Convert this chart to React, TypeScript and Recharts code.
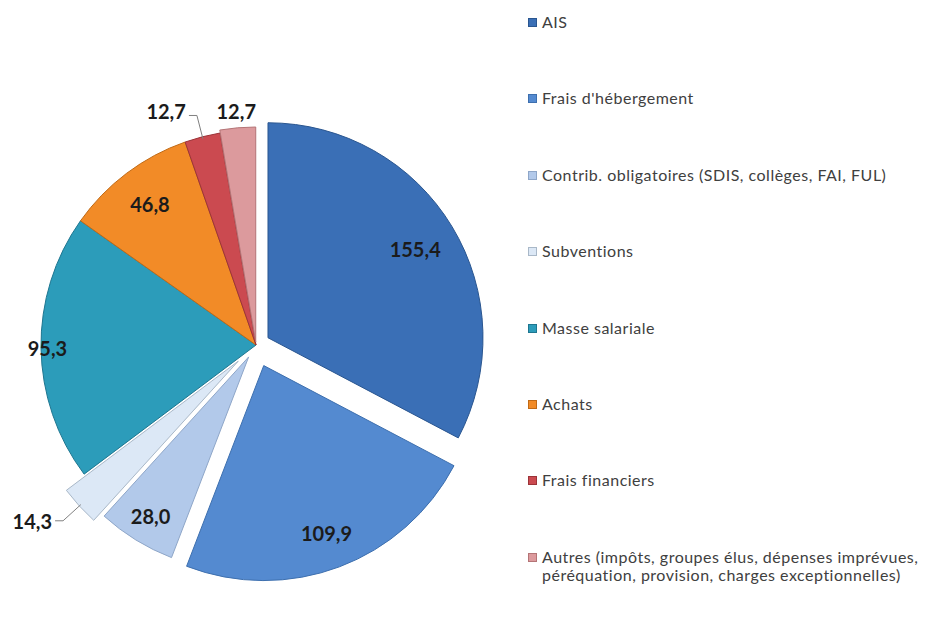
import { PieChart, Pie, Cell, Legend } from "recharts";

const categories = [
  "AIS",
  "Frais d'hébergement",
  "Contrib. obligatoires (SDIS, collèges, FAI, FUL)",
  "Subventions",
  "Masse salariale",
  "Achats",
  "Frais financiers",
  "Autres (impôts, groupes élus, dépenses imprévues,|péréquation, provision, charges exceptionnelles)",
];
const values = [155.4, 109.9, 28.0, 14.3, 95.3, 46.8, 12.7, 12.7];

const colors = ["#3a6fb6", "#548ad0", "#b2c9ea", "#dce8f6", "#2c9cba", "#f28b27", "#cb4a50", "#dc9a9d"];
const edges = ["#2a5690", "#3d6fae", "#8ea6c8", "#a9b8c8", "#1e7690", "#c06a16", "#9c3338", "#b47476"];
const explode = [14, 22, 14, 24, 0, 0, 0, 3];
const labelRadius = [0.8, 0.83, 0.87, 1, 0.97, 0.82, 1, 1.08];

const CX = 256;
const CY = 345;
const R = 215;
const RAD = Math.PI / 180;

const data = categories.map((name, i) => ({ name, value: values[i] }));
const total = values.reduce((a, b) => a + b, 0);
let acc = 0;
const mids = values.map((v) => {
  const m = ((acc + v / 2) / total) * 360;
  acc += v;
  return m;
});

const fmt = (v: number) => v.toFixed(1).replace(".", ",");
const labelStyle = { fontFamily: "Lato, 'Open Sans', sans-serif", fontWeight: 700, fontSize: 20, fill: "#1b1b1b" };

const makeLabel = (own: number) => (p: any) => {
  if (p.index !== own) return null;
  const a = -p.midAngle * RAD;
  const pt = (r: number) => [p.cx + r * Math.cos(a), p.cy + r * Math.sin(a)];
  const text = fmt(values[own]);
  if (own === 6 || own === 3) {
    const [x1, y1] = pt(p.outerRadius - 2);
    const [x2, y2] = pt(p.outerRadius + 22);
    const x3 = x2 - 8;
    return (
      <g>
        <polyline points={`${x1},${y1} ${x2},${y2} ${x3},${y2}`} fill="none" stroke="#808080" strokeWidth={1} />
        <text x={x3 - 3} y={y2 - (own === 6 ? 4 : 0)} textAnchor="end" dominantBaseline="central" style={labelStyle}>
          {text}
        </text>
      </g>
    );
  }
  const [x, y] = pt(p.outerRadius * labelRadius[own]);
  return (
    <text x={x} y={y} textAnchor="middle" dominantBaseline="central" style={labelStyle}>
      {text}
    </text>
  );
};

const LegendBox = () => (
  <div style={{ fontFamily: "Lato, 'Open Sans', sans-serif", fontSize: 16, letterSpacing: 0.5, color: "#404040" }}>
    {categories.map((c, i) => (
      <div key={c} style={{ height: 76.4, display: "flex", alignItems: "flex-start" }}>
        <span
          style={{
            display: "inline-block",
            width: 9,
            height: 9,
            marginTop: 5,
            marginRight: 5,
            background: colors[i],
            border: `1px solid ${edges[i]}`,
            boxSizing: "border-box",
            flexShrink: 0,
          }}
        />
        <span style={{ lineHeight: "18.5px" }}>
          {c.split("|").map((l, k) => (
            <div key={k}>{l}</div>
          ))}
        </span>
      </div>
    ))}
  </div>
);

export default function App() {
  return (
    <div style={{ position: "absolute", left: 0, top: 0, width: 928, height: 638, background: "#fff" }}>
      <PieChart width={928} height={638} margin={{ top: 0, right: 0, bottom: 0, left: 0 }}>
        {values.map((_, own) => (
          <Pie
            key={own}
            data={data}
            dataKey="value"
            nameKey="name"
            cx={CX + explode[own] * Math.sin(mids[own] * RAD)}
            cy={CY - explode[own] * Math.cos(mids[own] * RAD)}
            outerRadius={R}
            startAngle={90}
            endAngle={-270}
            isAnimationActive={false}
            labelLine={false}
            label={makeLabel(own)}
            legendType="none"
          >
            {data.map((d, i) => (
              <Cell
                key={d.name}
                fill={i === own ? colors[i] : "none"}
                stroke={i === own ? edges[i] : "none"}
                strokeWidth={1}
              />
            ))}
          </Pie>
        ))}
        <Legend
          layout="vertical"
          verticalAlign="top"
          align="right"
          content={<LegendBox />}
          wrapperStyle={{ left: 528, top: 13, width: 400 }}
        />
      </PieChart>
    </div>
  );
}
